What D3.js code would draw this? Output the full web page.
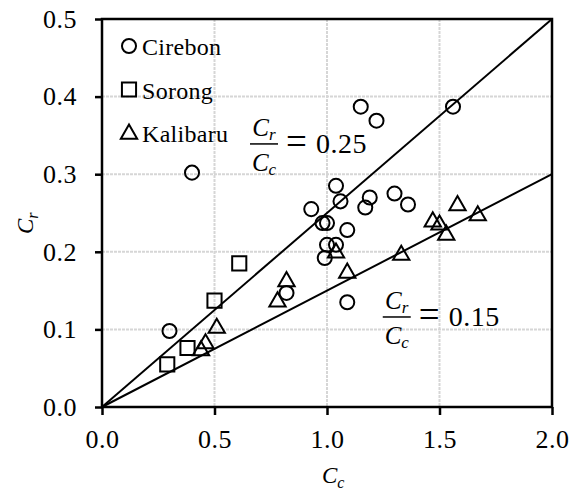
<!DOCTYPE html>
<html lang="en">
<head>
    <meta charset="UTF-8">
    <title>Cr vs Cc</title>
    <script src="https://d3js.org/d3.v7.min.js"></script>
    <style>
        body { margin: 0; background: #fff; }
        svg text { font-family: "Liberation Serif", "Times New Roman", serif; fill: #000; }
    </style>
</head>
<body>
<div id="chart"></div>
<script>
    // [Cc, Cr] pairs
    const cirebon = [
        [0.30, 0.098], [0.40, 0.302], [0.82, 0.147], [0.93, 0.255], [1.04, 0.285],
        [1.06, 0.265], [1.19, 0.270], [1.17, 0.257], [1.30, 0.275], [1.36, 0.261],
        [0.98, 0.237], [1.00, 0.237], [1.09, 0.228], [1.00, 0.209], [1.04, 0.209],
        [0.99, 0.192], [1.09, 0.135], [1.15, 0.387], [1.22, 0.369], [1.56, 0.387]
    ];
    const sorong = [[0.61, 0.185], [0.50, 0.137], [0.38, 0.076], [0.29, 0.055]];
    const kalibaru = [
        [0.51, 0.103], [0.46, 0.083], [0.44, 0.074], [0.82, 0.163], [0.78, 0.137],
        [1.04, 0.200], [1.09, 0.174], [1.33, 0.197], [1.58, 0.261], [1.67, 0.248],
        [1.47, 0.240], [1.50, 0.236], [1.53, 0.223]
    ];
    const ratios = [0.25, 0.15];
    const xTicks = [0, 0.5, 1.0, 1.5, 2.0];
    const yTicks = [0, 0.1, 0.2, 0.3, 0.4, 0.5];
    const legendNames = ["Cirebon", "Sorong", "Kalibaru"];

    const width = 571, height = 493;
    const margin = {top: 19, right: 19, bottom: 86, left: 102};
    const w = width - margin.left - margin.right,
          h = height - margin.top - margin.bottom;

    const x = d3.scaleLinear().domain([0, 2]).range([0, w]);
    const y = d3.scaleLinear().domain([0, 0.5]).range([h, 0]);

    const svg = d3.select("#chart").append("svg")
        .attr("width", width)
        .attr("height", height);

    const g = svg.append("g").attr("transform", `translate(${margin.left},${margin.top})`);

    // gridlines
    g.selectAll(".gx").data(xTicks.slice(1, -1)).enter().append("line")
        .attr("x1", d => x(d)).attr("x2", d => x(d))
        .attr("y1", 0).attr("y2", h)
        .attr("stroke", "#d6d6d6").attr("stroke-width", 2).attr("stroke-dasharray", "3,1");
    g.selectAll(".gy").data(yTicks.slice(1, -1)).enter().append("line")
        .attr("y1", d => y(d)).attr("y2", d => y(d))
        .attr("x1", 0).attr("x2", w)
        .attr("stroke", "#d6d6d6").attr("stroke-width", 2).attr("stroke-dasharray", "3,1");

    // axes
    const fmt = d3.format(".1f");
    const xAxis = g.append("g")
        .attr("transform", `translate(0,${h})`)
        .call(d3.axisBottom(x).tickValues(xTicks).tickFormat(fmt).tickSizeInner(8).tickSizeOuter(0).tickPadding(15));
    const yAxis = g.append("g")
        .call(d3.axisLeft(y).tickValues(yTicks).tickFormat(fmt).tickSizeInner(7).tickSizeOuter(0).tickPadding(18));
    [xAxis, yAxis].forEach(a => {
        a.select(".domain").remove();
        a.selectAll("line").attr("stroke", "#000").attr("stroke-width", 2.5);
        a.selectAll("text").style("font-size", "26px").style("letter-spacing", "0.5px")
            .style("font-family", "Liberation Serif, serif").attr("fill", "#000");
    });
    xAxis.selectAll("text").attr("dy", "0.68em");

    // frame
    g.append("rect").attr("x", 0).attr("y", 0).attr("width", w).attr("height", h)
        .attr("fill", "none").attr("stroke", "#000").attr("stroke-width", 2.5);

    // ratio lines
    g.selectAll(".ratio").data(ratios).enter().append("line")
        .attr("x1", x(0)).attr("y1", y(0))
        .attr("x2", x(2)).attr("y2", d => y(2 * d))
        .attr("stroke", "#000").attr("stroke-width", 2);

    // markers
    const sym = {
        circle: d3.symbol().type(d3.symbolCircle).size(155),
        square: d3.symbol().type(d3.symbolSquare).size(200),
        triangle: d3.symbol().type(d3.symbolTriangle).size(115)
    };
    function drawSet(data, shape, dy) {
        g.append("g").selectAll("path").data(data).enter().append("path")
            .attr("d", sym[shape])
            .attr("transform", d => `translate(${x(d[0])},${y(d[1]) + dy})`)
            .attr("fill", "none").attr("stroke", "#000").attr("stroke-width", 2);
    }
    drawSet(cirebon, "circle", 0);
    drawSet(sorong, "square", 0);
    drawSet(kalibaru, "triangle", 1);

    // legend
    const shapes = ["circle", "square", "triangle"];
    legendNames.forEach((name, i) => {
        const ly = 46 + i * 43.5 - margin.top;
        g.append("path").attr("d", sym[shapes[i]])
            .attr("transform", `translate(${129 - margin.left},${ly + (i === 2 ? 1 : 0)})`)
            .attr("fill", "none").attr("stroke", "#000").attr("stroke-width", 2);
        g.append("text").attr("x", 142 - margin.left).attr("y", ly + 9)
            .style("font-size", "24px").style("letter-spacing", "0.3px").text(name);
    });

    // ratio annotations
    function fraction(cx, barY, val) {
        const t = g.append("g").attr("transform", `translate(${cx},${barY})`);
        const num = t.append("text").attr("x", 0).attr("y", -8)
            .attr("text-anchor", "middle").style("font-size", "25px").style("font-style", "italic");
        num.append("tspan").text("C");
        num.append("tspan").attr("dy", 4).style("font-size", "17px").text("r");
        t.append("line").attr("x1", -14).attr("x2", 14).attr("y1", 0).attr("y2", 0)
            .attr("stroke", "#000").attr("stroke-width", 1.5);
        const den = t.append("text").attr("x", 0).attr("y", 27)
            .attr("text-anchor", "middle").style("font-size", "25px").style("font-style", "italic");
        den.append("tspan").text("C");
        den.append("tspan").attr("dy", 4).style("font-size", "17px").text("c");
        t.append("text").attr("x", 22).attr("y", 10).style("font-size", "37px").text("=");
        t.append("text").attr("x", 52).attr("y", 9).style("font-size", "28px")
            .style("letter-spacing", "0.5px").text(val.toFixed(2));
    }
    fraction(x(0.72), y(0.339), ratios[0]);
    fraction(x(1.31), y(0.116), ratios[1]);

    // axis titles
    const xt = svg.append("text").attr("x", 322).attr("y", 483)
        .style("font-size", "23px").style("font-style", "italic");
    xt.append("tspan").text("C");
    xt.append("tspan").attr("dy", 5).style("font-size", "16px").text("c");

    const yt = svg.append("text").attr("transform", "translate(33,234) rotate(-90)")
        .style("font-size", "23px").style("font-style", "italic");
    yt.append("tspan").text("C");
    yt.append("tspan").attr("dy", 5).style("font-size", "16px").text("r");
</script>
</body>
</html>
